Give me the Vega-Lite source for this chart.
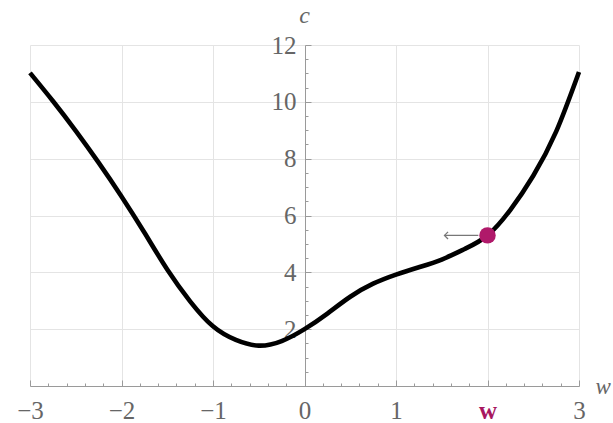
{
  "$schema": "https://vega.github.io/schema/vega-lite/v6.json",
  "width": 549,
  "height": 341,
  "autosize": {"type": "none"},
  "padding": {"left": 30, "top": 45, "right": 34, "bottom": 37},
  "background": "white",
  "config": {
    "view": {"stroke": null},
    "axis": {
      "labelFont": "Liberation Serif",
      "titleFont": "Liberation Serif",
      "labelFontSize": 25,
      "labelColor": "#666666",
      "domainColor": "#9a9a9a",
      "tickColor": "#9a9a9a",
      "gridColor": "#e4e4e4",
      "gridWidth": 1
    }
  },
  "datasets": {
    "curve": [
      {"w": -3, "c": 11.02},
      {"w": -2.75, "c": 10.03},
      {"w": -2.5, "c": 8.98},
      {"w": -2.25, "c": 7.86},
      {"w": -2, "c": 6.67},
      {"w": -1.75, "c": 5.4},
      {"w": -1.5, "c": 4.1},
      {"w": -1.25, "c": 2.98},
      {"w": -1, "c": 2.1},
      {"w": -0.75, "c": 1.62},
      {"w": -0.5, "c": 1.42},
      {"w": -0.25, "c": 1.58},
      {"w": 0, "c": 2.0},
      {"w": 0.25, "c": 2.55},
      {"w": 0.5, "c": 3.14},
      {"w": 0.75, "c": 3.6},
      {"w": 1, "c": 3.92},
      {"w": 1.25, "c": 4.18},
      {"w": 1.5, "c": 4.45},
      {"w": 1.75, "c": 4.82},
      {"w": 2, "c": 5.3},
      {"w": 2.25, "c": 6.2},
      {"w": 2.5, "c": 7.4},
      {"w": 2.75, "c": 8.95},
      {"w": 3, "c": 11.05}
    ],
    "pt": [{"w": 2, "c": 5.3}],
    "arrow": [{"w": 1.53, "w2": 1.9, "c": 5.3}]
  },
  "layer": [
    {
      "data": {"name": "curve"},
      "mark": {"type": "line", "color": "black", "strokeWidth": 4.6, "interpolate": "natural"},
      "encoding": {
        "x": {
          "field": "w", "type": "quantitative",
          "scale": {"domain": [-3, 3], "nice": false, "zero": false},
          "axis": {
            "orient": "bottom",
            "values": [-3, -2, -1, 0, 1, 2, 3],
            "grid": true,
            "tickSize": -6,
            "labelPadding": 18,
            "labelExpr": "datum.value == 2 ? 'w' : datum.label",
            "labelColor": {"condition": {"test": "datum.value == 2", "value": "#a8175f"}, "value": "#666666"},
            "labelFontWeight": {"condition": {"test": "datum.value == 2", "value": "bold"}, "value": "normal"},
            "labelFlush": false,
            "title": "w",
            "titleFontStyle": "italic",
            "titleFontWeight": "normal",
            "titleFontSize": 23,
            "titleColor": "#666666",
            "titleX": 565,
            "titleY": 0,
            "titleAlign": "left",
            "titleBaseline": "middle"
          }
        },
        "y": {
          "field": "c", "type": "quantitative",
          "scale": {"domain": [0, 12], "nice": false},
          "axis": {
            "orient": "left",
            "offset": -275,
            "values": [2, 4, 6, 8, 10, 12],
            "grid": true,
            "tickSize": -6,
            "labelPadding": 15,
            "title": "c",
            "titleFontStyle": "italic",
            "titleFontWeight": "normal",
            "titleFontSize": 24,
            "titleColor": "#666666",
            "titleAngle": 0,
            "titleX": -1,
            "titleY": -30,
            "titleAlign": "center",
            "titleBaseline": "middle"
          }
        }
      }
    },
    {
      "data": {"name": "arrow"},
      "mark": {"type": "rule", "color": "#777777", "strokeWidth": 1.3},
      "encoding": {
        "x": {"field": "w", "type": "quantitative", "axis": null},
        "x2": {"field": "w2"},
        "y": {"field": "c", "type": "quantitative", "axis": null}
      }
    },
    {
      "data": {"name": "arrow"},
      "mark": {"type": "point", "shape": "M1,-1L0,0L1,1", "filled": false, "stroke": "#777777", "strokeWidth": 1.3, "size": 50, "opacity": 1},
      "encoding": {
        "x": {"field": "w", "type": "quantitative", "axis": null},
        "y": {"field": "c", "type": "quantitative", "axis": null}
      }
    },
    {
      "data": {"name": "pt"},
      "mark": {"type": "circle", "color": "#b0196a", "size": 270, "opacity": 1},
      "encoding": {
        "x": {
          "field": "w", "type": "quantitative",
          "axis": {
            "orient": "bottom",
            "values": [-2.8, -2.6, -2.4, -2.2, -1.8, -1.6, -1.4, -1.2, -0.8, -0.6, -0.4, -0.2, 0.2, 0.4, 0.6, 0.8, 1.2, 1.4, 1.6, 1.8, 2.2, 2.4, 2.6, 2.8],
            "grid": false, "domain": false, "labels": false, "title": null,
            "tickSize": -3
          }
        },
        "y": {
          "field": "c", "type": "quantitative",
          "axis": {
            "orient": "left",
            "offset": -275,
            "values": [0.5, 1, 1.5, 2.5, 3, 3.5, 4.5, 5, 5.5, 6.5, 7, 7.5, 8.5, 9, 9.5, 10.5, 11, 11.5],
            "grid": false, "domain": false, "labels": false, "title": null,
            "tickSize": -3
          }
        }
      }
    }
  ],
  "resolve": {"axis": {"x": "independent", "y": "independent"}}
}
